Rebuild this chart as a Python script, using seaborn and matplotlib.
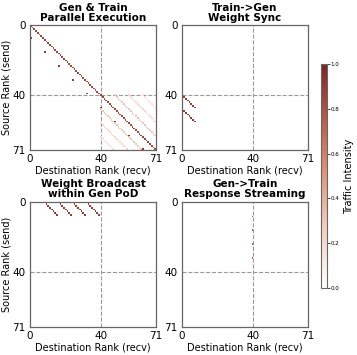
import numpy as np
import matplotlib
matplotlib.use("Agg")
import matplotlib.pyplot as plt
import seaborn as sns

N_RANKS = 72
SPLIT = 40
TICKS = [0, 40, 71]

# diagonal segments: (src_start, dst_start, length, intensity)
parallel_segments = [
    (0, 0, 72, 0.85),
    (40, 48, 24, 0.3), (48, 40, 24, 0.3),
    (40, 56, 16, 0.22), (56, 40, 16, 0.22),
    (40, 64, 8, 0.18), (64, 40, 8, 0.18),
]
parallel_points = [(7, 0), (15, 8), (23, 16), (31, 24), (39, 32),
                   (47, 40), (55, 48), (63, 56), (71, 64)]
parallel_point_vals = [0.9, 0.9, 0.9, 0.9, 0.9, 0.9, 0.9, 0.9, 0.9]

sync_segments = [(40, 0, 8, 0.9), (48, 0, 8, 0.9)]

broadcast_segments = [(0, 8, 8, 0.9), (0, 16, 8, 0.9), (0, 24, 8, 0.9), (0, 32, 8, 0.9)]

stream_points = [(0, 40), (8, 40), (16, 40), (24, 40), (32, 40)]
stream_point_vals = [0.8, 0.8, 0.8, 0.8, 0.8]

titles = ["Gen & Train\nParallel Execution", "Train->Gen\nWeight Sync",
          "Weight Broadcast\nwithin Gen PoD", "Gen->Train\nResponse Streaming"]


def build(segments=(), points=(), vals=()):
    m = np.zeros((N_RANKS, N_RANKS))
    for s, d, n, v in segments:
        for i in range(n):
            m[s + i, d + i] = v
    for (s, d), v in zip(points, vals):
        m[s, d] = v
    return m


mats = [
    build(parallel_segments, parallel_points, parallel_point_vals),
    build(sync_segments),
    build(broadcast_segments),
    build(points=stream_points, vals=stream_point_vals),
]

sns.set_theme(style="white")
plt.rcParams['font.family'] = ['DejaVu Sans']
plt.rcParams['text.color'] = 'black'
plt.rcParams['xtick.color'] = 'black'
plt.rcParams['ytick.color'] = 'black'
plt.rcParams['axes.labelcolor'] = 'black'

cmap = sns.blend_palette(["#ffffff", "#f2d3c4", "#dc9a80", "#b85c4c", "#7a2626"], as_cmap=True)

fig = plt.figure(figsize=(3.57, 3.55), dpi=100)
positions = [
    [0.084, 0.577, 0.353, 0.353],
    [0.509, 0.577, 0.353, 0.353],
    [0.084, 0.079, 0.353, 0.353],
    [0.509, 0.079, 0.353, 0.353],
]
scale = N_RANKS / 71.0
for k, (mat, title, pos) in enumerate(zip(mats, titles, positions)):
    ax = fig.add_axes(pos)
    ax.set_facecolor("white")
    # zeros transparent so the dashed guides sit underneath the traffic marks
    sns.heatmap(mat, ax=ax, cmap=cmap, vmin=0, vmax=1, cbar=False, mask=(mat == 0),
                xticklabels=False, yticklabels=False)
    ax.axhline(SPLIT * scale, color="#999999", ls="--", lw=0.8, zorder=0.5)
    ax.axvline(SPLIT * scale, color="#999999", ls="--", lw=0.8, zorder=0.5)
    ax.set_xticks([t * scale for t in TICKS])
    ax.set_yticks([t * scale for t in TICKS])
    ax.set_xticklabels([str(t) for t in TICKS], fontsize=7.5)
    ax.set_yticklabels([str(t) for t in TICKS], fontsize=7.5, rotation=0)
    ax.tick_params(length=2, width=0.6, pad=1, color="#555555")
    for sp in ax.spines.values():
        sp.set_visible(True)
        sp.set_color("#666666")
        sp.set_linewidth(0.9)
    ax.set_title(title, fontsize=7.5, fontweight="bold", pad=3, linespacing=1.0)
    ax.set_xlabel("Destination Rank (recv)", fontsize=7, labelpad=1)
    if k % 2 == 0:
        ax.set_ylabel("Source Rank (send)", fontsize=7, labelpad=1)

cax = fig.add_axes([0.9, 0.189, 0.015, 0.631])
sm = plt.cm.ScalarMappable(cmap=cmap, norm=plt.Normalize(0, 1))
cb = fig.colorbar(sm, cax=cax, ticks=[0, 0.2, 0.4, 0.6, 0.8, 1.0])
cb.ax.tick_params(labelsize=4, length=2, width=0.5, pad=1)
cb.outline.set_edgecolor("#666666")
cb.outline.set_linewidth(0.8)
cb.set_label("Traffic Intensity", fontsize=7, labelpad=3)

fig.savefig("out.png", dpi=100)
